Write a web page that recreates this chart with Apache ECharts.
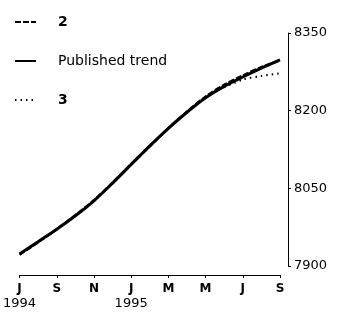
<!DOCTYPE html>
<html>
<head>
<meta charset="utf-8">
<script src="https://cdn.jsdelivr.net/npm/echarts@6/dist/echarts.min.js"></script>
<style>
  html, body { margin: 0; padding: 0; background: #fff; }
  #chart { width: 342px; height: 313px; }
</style>
</head>
<body>
<div id="chart"></div>
<script>
// months Jul 1994 .. Sep 1995
var months = ['Jul 1994','Aug 1994','Sep 1994','Oct 1994','Nov 1994','Dec 1994',
              'Jan 1995','Feb 1995','Mar 1995','Apr 1995','May 1995','Jun 1995',
              'Jul 1995','Aug 1995','Sep 1995'];
var monthLetters = ['J','A','S','O','N','D','J','F','M','A','M','J','J','A','S'];
var yearLabels = { 0: '1994', 6: '1995' };

var trend   = [7923, 7947, 7971, 7997, 8026, 8060, 8096, 8132, 8166, 8197, 8225, 8247, 8265, 8282, 8298];
var series2 = [7922, 7946, 7971, 7998, 8027, 8061, 8097, 8131, 8166, 8198, 8227, 8250, 8268, 8284, 8297];
var series3 = [null, null, null, null, null, null, null, null, null, null, null, 8245, 8260, 8267, 8272];

var yTicks = [7900, 8050, 8200, 8350];

var myChart = echarts.init(document.getElementById('chart'));

var option = {
    animation: false,
    backgroundColor: '#fff',
    textStyle: { fontFamily: 'DejaVu Sans', color: '#000' },
    legend: {
        orient: 'vertical',
        left: 9,
        top: 10,
        itemWidth: 21,
        itemHeight: 14,
        itemGap: 25,
        itemStyle: { opacity: 0 },
        textStyle: { fontSize: 14, color: '#000', padding: [0, 0, 0, 17] },
        data: [
            { name: '2', textStyle: { fontWeight: 'bold', fontSize: 14 } },
            { name: 'Published trend' },
            { name: '3', textStyle: { fontWeight: 'bold', fontSize: 14 } }
        ]
    },
    grid: { left: 17, right: 62, top: 33, bottom: 47 },
    xAxis: {
        type: 'category',
        data: months,
        boundaryGap: false,
        offset: 9,
        axisLine: { lineStyle: { color: '#000', width: 1 } },
        axisTick: { interval: 1, length: 3, lineStyle: { color: '#000' } },
        axisLabel: {
            interval: 1,
            margin: 6,
            formatter: function (v, i) {
                var s = '{m|' + monthLetters[i] + '}';
                if (yearLabels[i]) s += '\n{y|' + yearLabels[i] + '}';
                return s;
            },
            rich: {
                m: { fontSize: 12, fontWeight: 'bold', color: '#000', lineHeight: 15 },
                y: { fontSize: 13, color: '#000', lineHeight: 15 }
            }
        },
        splitLine: { show: false }
    },
    yAxis: {
        type: 'value',
        position: 'right',
        offset: 8,
        min: yTicks[0],
        max: yTicks[yTicks.length - 1],
        interval: 150,
        axisLine: { show: true, lineStyle: { color: '#000', width: 1 } },
        axisTick: { show: true, length: 3, lineStyle: { color: '#000' } },
        axisLabel: {
            fontSize: 13, color: '#000', margin: 6,
            formatter: function (v) { return String(v); }
        },
        splitLine: { show: false }
    },
    series: [
        {
            name: '2',
            type: 'line',
            data: series2,
            symbol: 'none',
            smooth: 0.3,
            color: '#000',
            lineStyle: { color: '#000', width: 2.5, type: [6, 2] }
        },
        {
            name: 'Published trend',
            type: 'line',
            data: trend,
            symbol: 'none',
            smooth: 0.3,
            color: '#000',
            lineStyle: { color: '#000', width: 3 }
        },
        {
            name: '3',
            type: 'line',
            data: series3,
            symbol: 'none',
            smooth: 0.3,
            color: '#000',
            lineStyle: { color: '#000', width: 2, type: [1.5, 4] }
        }
    ]
};

myChart.setOption(option);
</script>
</body>
</html>
